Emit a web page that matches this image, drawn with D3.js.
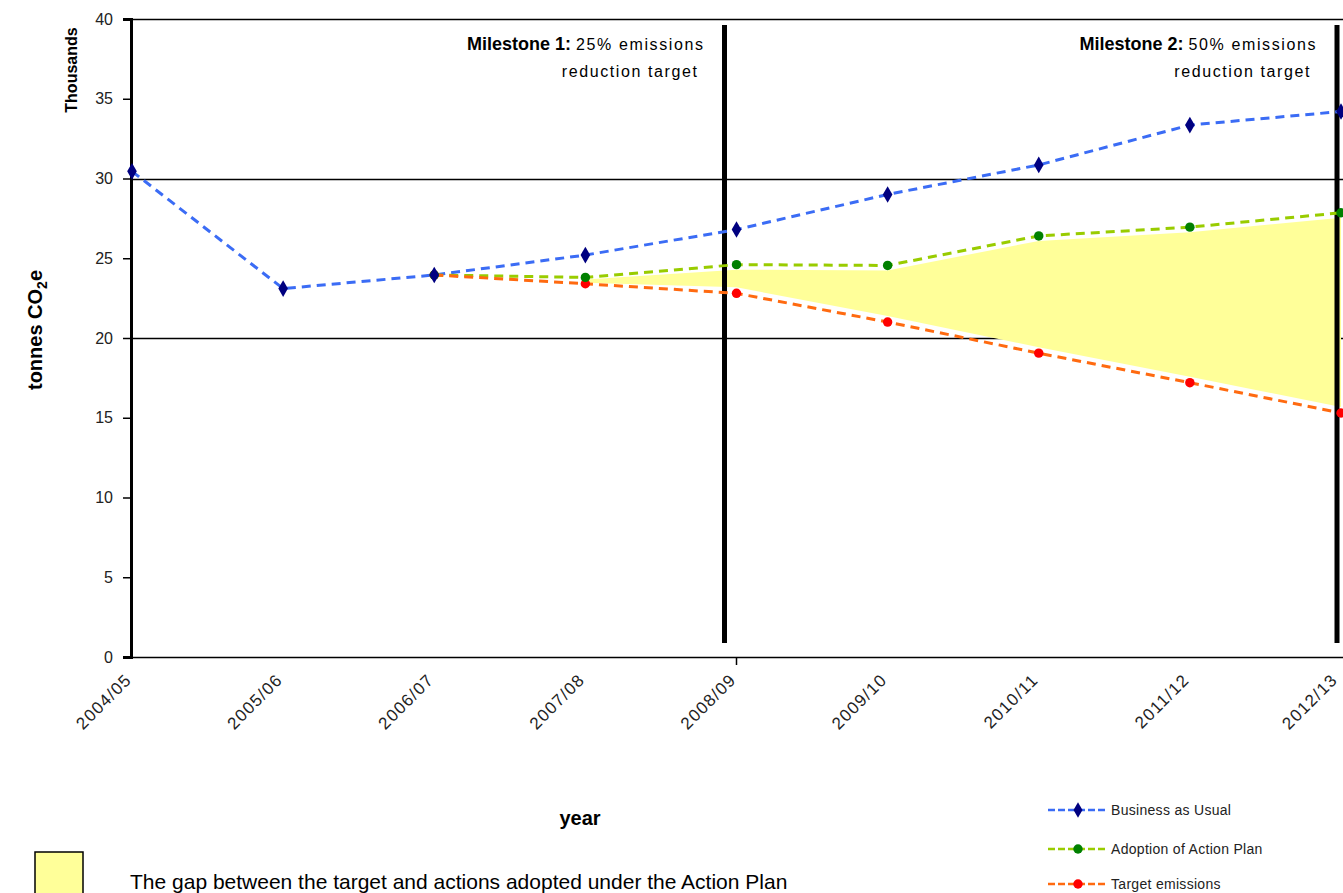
<!DOCTYPE html>
<html>
<head>
<meta charset="utf-8">
<script src="https://cdn.jsdelivr.net/npm/d3@7"></script>
<style>
  html, body { margin: 0; padding: 0; background: #fff; }
  svg { display: block; }
  text { font-family: "Liberation Sans", Arial, sans-serif; }
</style>
</head>
<body>
<svg id="chart" width="1343" height="893"></svg>
<script>
// Emissions scenarios, thousands of tonnes CO2e per financial year
const years = ["2004/05", "2005/06", "2006/07", "2007/08", "2008/09", "2009/10", "2010/11", "2011/12", "2012/13"];
const businessAsUsual = [30.45, 23.1, 23.95, 25.2, 26.8, 29.0, 30.85, 33.35, 34.2];
const actionPlan = [null, null, 23.95, 23.8, 24.6, 24.55, 26.4, 26.95, 27.85];
const targetEmissions = [null, null, 23.95, 23.4, 22.8, 21.0, 19.05, 17.2, 15.3];
const yTicks = [0, 5, 10, 15, 20, 25, 30, 35, 40];
const gridValues = [20, 30, 40];
const milestones = [
  { at: 4, title: "Milestone 1:", line1: "25% emissions", line2: "reduction target", offset: -12 },
  { at: 8, title: "Milestone 2:", line1: "50% emissions", line2: "reduction target", offset: -4 }
];
const seriesInfo = [
  { name: "Business as Usual", values: businessAsUsual, line: "#3b6cf5", marker: "#000080" },
  { name: "Adoption of Action Plan", values: actionPlan, line: "#99cc00", marker: "#008000" },
  { name: "Target emissions", values: targetEmissions, line: "#ff6a10", marker: "#ff0000" }
];

const svg = d3.select("#chart");
const plotLeft = 131, plotRight = 1341, plotTop = 19, plotBottom = 657;

const x = d3.scalePoint().domain(years).range([plotLeft + 1, plotRight]);
const y = d3.scaleLinear().domain([0, 40]).range([plotBottom, plotTop]);

// Horizontal grid lines
svg.append("g").selectAll("line").data(gridValues).join("line")
  .attr("x1", plotLeft).attr("x2", 1343)
  .attr("y1", d => Math.round(y(d)) + 0.5).attr("y2", d => Math.round(y(d)) + 0.5)
  .attr("stroke", "#000").attr("stroke-width", 1.5);

// Gap between target and adopted actions (from 2007/08 onward)
const gapData = years.map((yr, i) => ({ yr, hi: actionPlan[i], lo: targetEmissions[i], i }))
  .filter(d => d.i >= 3);
svg.append("path")
  .datum(gapData)
  .attr("d", d3.area()
    .x(d => x(d.yr))
    .y0(d => d.i === 3 ? y(d.lo) - 1 : y(d.lo) - 6)
    .y1(d => d.i === 3 ? y(d.hi) + 2 : y(d.hi) + 5))
  .attr("fill", "#ffff99");

// Y axis
const yAxis = svg.append("g")
  .attr("transform", `translate(${plotLeft},0)`)
  .call(d3.axisLeft(y).tickValues(yTicks).tickSize(8).tickPadding(10).tickFormat(d3.format("d")));
yAxis.select(".domain").attr("stroke", "#000").attr("stroke-width", 3);
yAxis.selectAll(".tick line").attr("stroke", "#000").attr("stroke-width", 1.5);
yAxis.selectAll(".tick text").attr("font-size", 16).attr("fill", "#222")
  .attr("font-family", "'Liberation Sans', Arial, sans-serif");

// X axis
const xAxis = svg.append("g")
  .attr("transform", `translate(0,${plotBottom})`)
  .call(d3.axisBottom(x).tickSize(0).tickPadding(0));
xAxis.select(".domain").attr("stroke", "#000").attr("stroke-width", 1.5)
  .attr("d", `M${plotLeft},0.5H1343`);
xAxis.selectAll(".tick text")
  .attr("font-size", 17).attr("fill", "#222")
  .attr("letter-spacing", 1.2)
  .attr("font-family", "'Liberation Sans', Arial, sans-serif")
  .attr("text-anchor", "end")
  .attr("dy", 0)
  .attr("transform", (d, i) => i === years.length - 1
    ? "translate(-3,24) rotate(-45)"
    : "translate(0,24) rotate(-45)");
svg.append("line")
  .attr("x1", x(years[4])).attr("x2", x(years[4]))
  .attr("y1", plotBottom).attr("y2", plotBottom + 8)
  .attr("stroke", "#000").attr("stroke-width", 1.5);

// Milestone markers
milestones.forEach(m => {
  const mx = x(years[m.at]) + m.offset;
  svg.append("line")
    .attr("x1", mx).attr("x2", mx)
    .attr("y1", 25).attr("y2", 643)
    .attr("stroke", "#000").attr("stroke-width", 5);
  const tx = mx - 20;
  const t1 = svg.append("text")
    .attr("x", tx).attr("y", 50)
    .attr("text-anchor", "end")
    .attr("font-size", 16);
  t1.append("tspan").attr("font-weight", "bold").attr("font-size", 18).text(m.title + " ");
  t1.append("tspan").attr("letter-spacing", 1.6).text(" " + m.line1);
  svg.append("text")
    .attr("x", tx - 6).attr("y", 77)
    .attr("text-anchor", "end")
    .attr("font-size", 16)
    .attr("letter-spacing", 1.6)
    .text(m.line2);
});

// Series lines and markers
seriesInfo.forEach(s => {
  const pts = years.map((yr, i) => ({ yr, v: s.values[i] })).filter(d => d.v !== null);
  svg.append("path")
    .datum(pts)
    .attr("d", d3.line().x(d => x(d.yr)).y(d => y(d.v)))
    .attr("fill", "none")
    .attr("stroke", s.line)
    .attr("stroke-width", 3)
    .attr("stroke-dasharray", "9,6");
});
seriesInfo.slice().reverse().forEach(s => {
  const pts = years.map((yr, i) => ({ yr, v: s.values[i] })).filter(d => d.v !== null);
  svg.append("g").selectAll("path").data(pts).join("path")
    .attr("transform", d => `translate(${x(d.yr)},${y(d.v)})`)
    .attr("d", s.name === "Business as Usual"
      ? d3.symbol(d3.symbolDiamond, 80)()
      : d3.symbol(d3.symbolCircle, 70)())
    .attr("fill", s.marker);
});

// Axis titles
svg.append("text")
  .attr("transform", "translate(77,70) rotate(-90)")
  .attr("text-anchor", "middle")
  .attr("font-size", 16).attr("font-weight", "bold")
  .text("Thousands");
const yt = svg.append("text")
  .attr("transform", "translate(42,330) rotate(-90)")
  .attr("text-anchor", "middle")
  .attr("font-size", 20).attr("font-weight", "bold");
yt.append("tspan").text("tonnes CO");
yt.append("tspan").attr("font-size", 14).attr("dy", 5).text("2");
yt.append("tspan").attr("dy", -5).text("e");
svg.append("text")
  .attr("x", 580).attr("y", 825)
  .attr("text-anchor", "middle")
  .attr("font-size", 20).attr("font-weight", "bold")
  .text("year");

// Legend
const legend = svg.append("g").attr("transform", "translate(1048,0)");
const legendY = [810, 849, 884];
seriesInfo.forEach((s, i) => {
  const g = legend.append("g").attr("transform", `translate(0,${legendY[i]})`);
  g.append("line").attr("x1", 0).attr("x2", 60).attr("y1", 0).attr("y2", 0)
    .attr("stroke", s.line).attr("stroke-width", 2.5).attr("stroke-dasharray", "7,3");
  g.append("path").attr("transform", "translate(30,0)")
    .attr("d", i === 0 ? d3.symbol(d3.symbolDiamond, 70)() : d3.symbol(d3.symbolCircle, 70)())
    .attr("fill", s.marker);
  g.append("text").attr("x", 63).attr("y", 5)
    .attr("font-size", 14).attr("letter-spacing", 0.3).attr("fill", "#222")
    .text(s.name);
});

// Gap note
svg.append("rect")
  .attr("x", 35).attr("y", 852).attr("width", 48).attr("height", 46)
  .attr("fill", "#ffff99").attr("stroke", "#000").attr("stroke-width", 1.5);
svg.append("text")
  .attr("x", 130).attr("y", 889)
  .attr("font-size", 21)
  .text("The gap between the target and actions adopted under the Action Plan");
</script>
</body>
</html>
